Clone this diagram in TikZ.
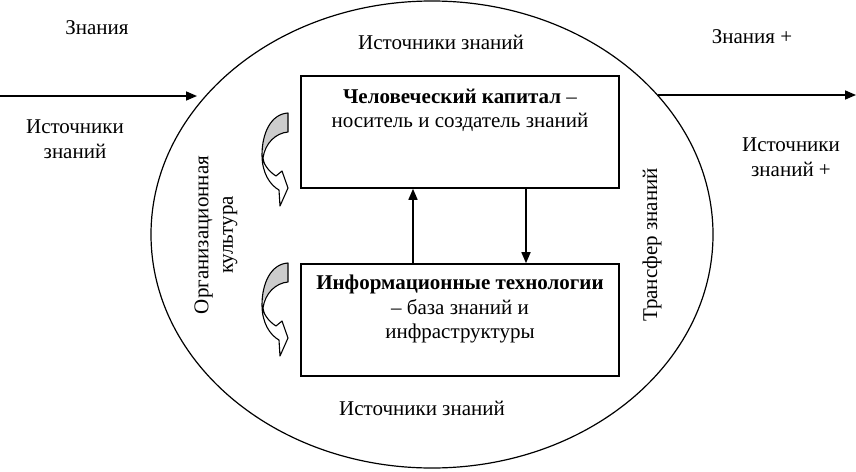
\documentclass[tikz,border=0pt]{standalone}
\usepackage{fontspec}
\setmainfont{Liberation Serif}
\usetikzlibrary{arrows.meta,shapes.geometric}
\tikzset{
  lbl/.style={font=\fontsize{21}{24.5}\selectfont, align=center, inner sep=0pt},
  box/.style={draw, line width=1.6pt, minimum width=318pt, minimum height=112pt, inner sep=0pt},
  arr/.style={line width=1.6pt, -{Triangle[length=11pt,width=9pt]}},
  pics/curvarrow/.style={code={
    \fill[gray!40] (0,0) .. controls (-17,1) and (-26,20) .. (-26,42)
       .. controls (-23,30) and (-12,20) .. (0,19) -- cycle;
    \draw[line width=1.1pt, line join=round] (0,0) .. controls (-17,1) and (-26,20) .. (-26,42)
       .. controls (-26,60) and (-18,72) .. (-9,77) -- (-8,93) -- (0,75) -- (-6,58) -- (-12,63)
       .. controls (-20,58) and (-25,50) .. (-25,45)
       .. controls (-23,30) and (-12,20) .. (0,19) -- cycle;
  }}
}
\begin{document}
\begin{tikzpicture}[x=1pt,y=-1pt]
\useasboundingbox (0,0) rectangle (856,471);
% ellipse
\node[draw, ellipse, line width=1.2pt, minimum width=562pt, minimum height=467pt, inner sep=0pt] (org) at (432,234.5) {};
% boxes
\node[box] (hc) at (460,132) {};
\node[box] (it) at (460,320) {};
\node[lbl] (hct) at (460,110.5) {\textbf{Человеческий капитал} –\\носитель и создатель знаний};
\node[lbl] (itt) at (460,309) {\textbf{Информационные технологии}\\– база знаний и\\инфраструктуры};
% vertical arrows
\coordinate (upx) at (413,0);
\coordinate (dnx) at (526,0);
\draw[arr] (it.north -| upx) -- (hc.south -| upx);
\draw[arr] (hc.south -| dnx) -- (it.north -| dnx);
% in/out arrows
\coordinate (inA) at (0,96);
\coordinate (inB) at (197,96);
\coordinate (outA) at (658,95);
\coordinate (outB) at (856,95);
\draw[arr] (inA) -- (inB);
\draw[arr] (outA) -- (outB);
% labels
\node[lbl] (k1) at (97,28) {Знания};
\node[lbl] (s1) at (75,139) {Источники\\знаний};
\node[lbl] (k2) at (752,37) {Знания +};
\node[lbl] (s2) at (791,157) {Источники\\знаний +};
\node[lbl] (st) at (441,42) {Источники знаний};
\node[lbl] (sb) at (422,408) {Источники знаний};
\node[lbl, rotate=90] (oc) at (216,235) {Организационная\\культура};
\node[lbl, rotate=90] (tr) at (652,245) {Трансфер знаний};
% curved arrows
\pic at (288,113) {curvarrow};
\pic at (288,263) {curvarrow};
\end{tikzpicture}
\end{document}
